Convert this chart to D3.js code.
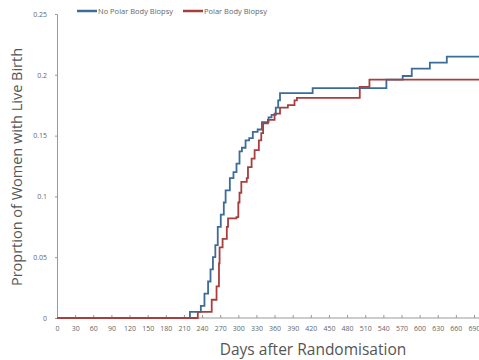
<!DOCTYPE html>
<html>
<head>
<meta charset="utf-8">
<script src="https://cdn.jsdelivr.net/npm/d3@7"></script>
<style>
  body { margin: 0; background: #fff; }
  text { font-family: "Open Sans", "Liberation Sans", sans-serif; }
</style>
</head>
<body>
<div id="chart"></div>
<script>
// cumulative live birth, [day, proportion]
var noBiopsy = [
  [0, 0], [220, 0.005], [238, 0.01], [244, 0.02], [250, 0.03], [254, 0.04],
  [258, 0.05], [262, 0.06], [266, 0.075], [271, 0.085], [276, 0.095],
  [279, 0.105], [286, 0.115], [292, 0.12], [297, 0.127], [302, 0.137],
  [306, 0.14], [312, 0.146], [318, 0.148], [324, 0.153], [332, 0.155],
  [339, 0.161], [350, 0.165], [355, 0.167], [362, 0.173], [366, 0.179],
  [369, 0.185], [423, 0.189], [545, 0.196], [572, 0.199], [587, 0.205],
  [617, 0.21], [645, 0.215], [710, 0.215]
];
var biopsy = [
  [0, 0], [233, 0.005], [256, 0.015], [264, 0.026], [268, 0.045],
  [269, 0.058], [274, 0.065], [281, 0.075], [283, 0.082], [297, 0.083],
  [300, 0.095], [302, 0.103], [305, 0.112], [314, 0.115], [316, 0.124],
  [322, 0.131], [327, 0.138], [334, 0.146], [338, 0.152], [341, 0.16],
  [349, 0.163], [360, 0.168], [369, 0.173], [382, 0.175], [393, 0.179],
  [397, 0.181], [501, 0.19], [517, 0.196], [710, 0.196]
];
var seriesNames = ["No Polar Body Biopsy", "Polar Body Biopsy"];
var seriesColors = ["#3c6c98", "#a63f3d"];
var xTicks = d3.range(0, 691, 30);
var yTicks = [0, 0.05, 0.1, 0.15, 0.2, 0.25];

var width = 479, height = 360;
var x = d3.scaleLinear().domain([0, 690]).range([57, 474]);
var y = d3.scaleLinear().domain([0, 0.25]).range([318, 14]);

var svg = d3.select("#chart").append("svg")
  .attr("width", width)
  .attr("height", height);

//axes
var xAxis = svg.append("g")
  .attr("transform", "translate(0," + y(0) + ")")
  .call(d3.axisBottom(x).tickValues(xTicks).tickSize(-3).tickPadding(8)
    .tickFormat(d3.format("d")));
xAxis.select(".domain").attr("stroke", "#999").attr("d", "M57,0H479");
xAxis.selectAll(".tick line").attr("stroke", "#999");
xAxis.selectAll("text").attr("fill", "#666").style("font-size", "7px");

var yAxis = svg.append("g")
  .attr("transform", "translate(" + x(0) + ",0)")
  .call(d3.axisLeft(y).tickValues(yTicks).tickSize(2).tickPadding(8)
    .tickFormat(function(d) { return d === 0 ? "0" : String(+d.toFixed(2)); }));
yAxis.select(".domain").attr("stroke", "#999");
yAxis.selectAll(".tick line").attr("stroke", "#999");
yAxis.selectAll("text").attr("fill", "#666").style("font-size", "7px");

//step lines
var line = d3.line()
  .x(function(d) { return x(d[0]); })
  .y(function(d) { return y(d[1]); })
  .curve(d3.curveStepAfter);

[noBiopsy, biopsy].forEach(function(s, i) {
  svg.append("path")
    .datum(s)
    .attr("fill", "none")
    .attr("stroke", seriesColors[i])
    .attr("stroke-width", 1.8)
    .attr("d", line);
});

//legend
var legend = svg.append("g")
  .selectAll("g")
  .data(seriesNames)
  .enter()
  .append("g")
  .attr("transform", function(d, i) {
    return "translate(" + (77 + i * 106) + ",11)";
  });
legend.append("line")
  .attr("x1", 0).attr("x2", 20)
  .attr("stroke-width", 2.5)
  .attr("stroke", function(d, i) { return seriesColors[i]; });
legend.append("text")
  .attr("x", 21)
  .attr("y", 2.5)
  .attr("fill", "#666")
  .style("font-size", "7.5px")
  .text(function(d) { return d; });

//axis titles
svg.append("text")
  .attr("x", 313)
  .attr("y", 355)
  .attr("text-anchor", "middle")
  .attr("fill", "#555")
  .style("font-size", "15.5px")
  .text("Days after Randomisation");

svg.append("text")
  .attr("transform", "translate(22,167) rotate(-90)")
  .attr("text-anchor", "middle")
  .attr("fill", "#555")
  .style("font-size", "14.5px")
  .text("Proprtion of Women with Live Birth");
</script>
</body>
</html>
